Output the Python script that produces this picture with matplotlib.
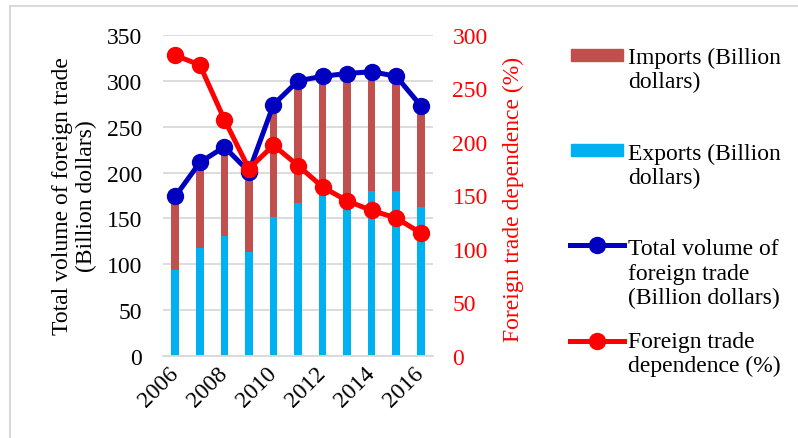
import matplotlib
matplotlib.use("Agg")
import matplotlib.pyplot as plt
from matplotlib.lines import Line2D
from matplotlib.patches import Rectangle

years = [2006, 2007, 2008, 2009, 2010, 2011, 2012, 2013, 2014, 2015, 2016]
exports = [94, 118, 131, 113, 152, 167, 174, 163, 180, 180, 163]
total = [174, 211, 228, 201, 274, 300, 305, 308, 310, 305, 273]
imports = [t - e for t, e in zip(total, exports)]
dependence = [281, 272, 221, 175, 197, 178, 158, 145, 136, 129, 115]

W, H = 798, 439
plt.rcParams["font.family"] = ["Liberation Serif", "DejaVu Serif"]
FS = 17

fig = plt.figure(figsize=(W / 100, H / 100), dpi=100)
ax = fig.add_axes([163 / W, 1 - 357 / H, 270 / W, 321 / H])

x = list(range(len(years)))
ax.bar(x, exports, width=0.31, color="#00b0f0", zorder=2)
ax.bar(x, imports, width=0.31, bottom=exports, color="#c0504d", zorder=2)
ax.plot(x, total, color="#0000c0", lw=3.6, marker="o", ms=11.5, zorder=3)

ax.set_ylim(0, 350)
ax.set_xlim(-0.5, len(years) - 0.5)
ax.set_yticks(range(0, 351, 50))
ax.grid(axis="y", color="#d9d9d9", lw=1.3, zorder=0)
for s in ["top", "right", "left"]:
    ax.spines[s].set_visible(False)
ax.spines["bottom"].set_color("#d9d9d9")
ax.spines["bottom"].set_linewidth(1.3)
ax.tick_params(axis="y", length=0, pad=15, labelsize=FS)
ax.set_xticks(x[::2])
ax.set_xticklabels([str(y) for y in years[::2]], rotation=45, ha="right",
                   va="center", rotation_mode="anchor", fontsize=FS)
ax.tick_params(axis="x", length=0, pad=10)
ax.set_ylabel("Total volume of foreign trade\n(Billion dollars)", fontsize=FS)
ax.yaxis.set_label_coords(-0.244, 0.5)

ax2 = ax.twinx()
ax2.plot(x, dependence, color="#ff0000", lw=3.6, marker="o", ms=11.5, zorder=4)
ax2.set_ylim(0, 300)
ax2.set_yticks(range(0, 301, 50))
for s in ax2.spines.values():
    s.set_visible(False)
ax2.tick_params(axis="y", length=0, pad=14, labelsize=FS, labelcolor="#ff0000")
ax2.set_ylabel("Foreign trade dependence (%)", color="#ff0000", fontsize=FS)
ax2.yaxis.set_label_coords(1.259, 0.49)

# legend drawn by hand so the handle sits on the first text line
# (text y is the baseline of the last line)
tf = fig.transFigure
fig.add_artist(Rectangle((571 / W, 1 - 62 / H), 52 / W, 12 / H,
                         color="#c0504d", transform=tf))
fig.text(628 / W, 1 - 88 / H, "Imports (Billion\ndollars)", fontsize=FS, va="baseline")
fig.add_artist(Rectangle((571 / W, 1 - 157 / H), 52 / W, 12 / H,
                         color="#00b0f0", transform=tf))
fig.text(628 / W, 1 - 184 / H, "Exports (Billion\ndollars)", fontsize=FS, va="baseline")
fig.add_artist(Line2D([570 / W, 624 / W], [1 - 246 / H] * 2, color="#0000c0",
                      lw=3.6, transform=tf))
fig.add_artist(Line2D([597 / W], [1 - 246 / H], color="#0000c0", marker="o",
                      ms=11.5, transform=tf))
fig.text(628 / W, 1 - 304 / H, "Total volume of\nforeign trade\n(Billion dollars)",
         fontsize=FS, va="baseline")
fig.add_artist(Line2D([570 / W, 624 / W], [1 - 342 / H] * 2, color="#ff0000",
                      lw=3.6, transform=tf))
fig.add_artist(Line2D([597 / W], [1 - 342 / H], color="#ff0000", marker="o",
                      ms=11.5, transform=tf))
fig.text(628 / W, 1 - 372 / H, "Foreign trade\ndependence (%)", fontsize=FS, va="baseline")

# outer chart frame (only top and left edges fall inside the image)
fig.add_artist(Rectangle((10 / W, -0.1), 1.2, 1 - 7 / H + 0.1, fill=False,
                         edgecolor="#d9d9d9", lw=1.5, transform=tf))

fig.savefig("out.png", dpi=100)
